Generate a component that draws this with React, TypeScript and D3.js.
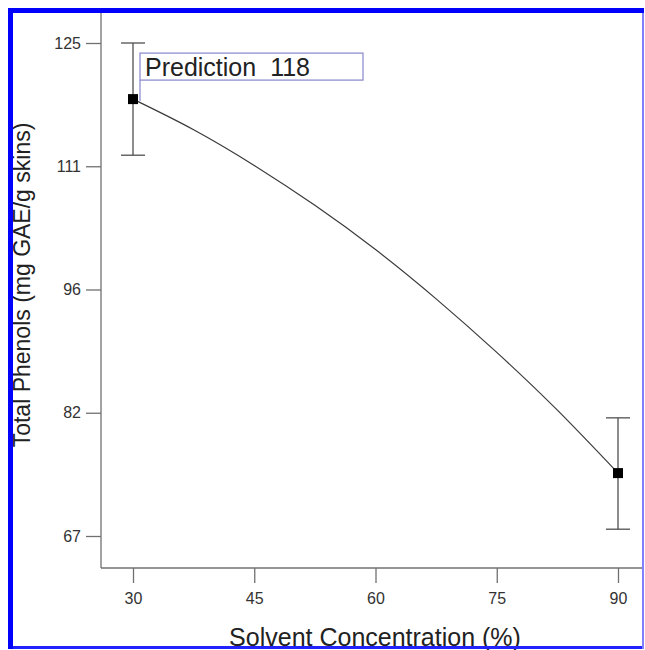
import React, { useEffect, useRef } from "react";
import * as d3 from "d3";

// model curve
const concentration = [30, 37.5, 45, 52.5, 60, 67.5, 75, 82.5, 90];
const phenols = [118.7, 115.1, 110.9, 106.2, 101.0, 95.2, 88.9, 82.1, 74.7];

// design points with their intervals
const pointX = [30, 90];
const pointY = [118.7, 74.7];
const pointLow = [112.1, 68.1];
const pointHigh = [125.3, 81.2];

const xTicks = [30, 45, 60, 75, 90];
const yTicks = [67.3, 81.8, 96.3, 110.8, 125.3];

const predictionLabel = "Prediction";

const FONT = "'Liberation Sans', Arial, Helvetica, sans-serif";

export default function App() {
  const ref = useRef<SVGSVGElement | null>(null);

  useEffect(() => {
    const svg = d3.select(ref.current);
    svg.selectAll("*").remove();

    const left = 101, right = 643, top = 13, bottom = 568;

    const x = d3.scaleLinear().domain([30, 90]).range([133, 618]);
    const y = d3.scaleLinear().domain([67.3, 125.3]).range([536, 43]);

    svg.append("rect").attr("width", 645).attr("height", 650).attr("fill", "#fff");

    // axes
    const xAxis = svg.append("g")
      .attr("transform", `translate(0,${bottom})`)
      .call(d3.axisBottom(x).tickValues(xTicks).tickSize(15).tickPadding(10).tickFormat(d3.format("d")));
    const yAxis = svg.append("g")
      .attr("transform", `translate(${left},0)`)
      .call(d3.axisLeft(y).tickValues(yTicks).tickSize(15).tickPadding(5).tickFormat(d3.format(".0f")));

    [xAxis, yAxis].forEach(g => {
      g.select(".domain").remove();
      g.selectAll("line").attr("stroke", "#707070").attr("stroke-width", 1.3);
      g.selectAll("text")
        .attr("fill", "#333")
        .attr("font-family", FONT)
        .attr("font-size", 16);
    });

    svg.append("line")
      .attr("x1", left).attr("x2", left).attr("y1", top).attr("y2", bottom)
      .attr("stroke", "#707070").attr("stroke-width", 1.3);
    svg.append("line")
      .attr("x1", left).attr("x2", right).attr("y1", bottom).attr("y2", bottom)
      .attr("stroke", "#707070").attr("stroke-width", 1.3);

    // curve
    const line = d3.line<number>()
      .x((d, i) => x(concentration[i]))
      .y(d => y(d))
      .curve(d3.curveNatural);
    svg.append("path")
      .datum(phenols)
      .attr("d", line)
      .attr("fill", "none")
      .attr("stroke", "#3a3a3a")
      .attr("stroke-width", 1.2);

    // error bars
    const bars = svg.append("g").attr("stroke", "#505050").attr("stroke-width", 1.3);
    pointX.forEach((px, i) => {
      bars.append("line")
        .attr("x1", x(px)).attr("x2", x(px))
        .attr("y1", y(pointHigh[i])).attr("y2", y(pointLow[i]));
      [pointHigh[i], pointLow[i]].forEach(v => {
        bars.append("line")
          .attr("x1", x(px) - 12).attr("x2", x(px) + 12)
          .attr("y1", y(v)).attr("y2", y(v));
      });
    });

    svg.append("g")
      .selectAll("rect")
      .data(pointY)
      .join("rect")
      .attr("x", (d, i) => x(pointX[i]) - 5)
      .attr("y", d => y(d) - 5)
      .attr("width", 10)
      .attr("height", 10)
      .attr("fill", "#000");

    // prediction flag
    const bx = x(pointX[0]) + 7;
    const by = y(pointY[0]) - 46;
    svg.append("line")
      .attr("x1", bx).attr("x2", bx)
      .attr("y1", by + 27).attr("y2", y(pointY[0]) + 2)
      .attr("stroke", "#8f8fd0").attr("stroke-width", 1.3);
    svg.append("rect")
      .attr("x", bx).attr("y", by)
      .attr("width", 223).attr("height", 27)
      .attr("fill", "#fff")
      .attr("stroke", "#8f8fd0").attr("stroke-width", 1.3);
    const t = svg.append("text")
      .attr("x", bx + 5).attr("y", by + 23)
      .attr("font-family", FONT).attr("font-size", 25)
      .attr("fill", "#222");
    t.append("tspan").text(predictionLabel);
    t.append("tspan").attr("dx", 14).text(Math.floor(pointY[0]));

    // titles
    svg.append("text")
      .attr("x", 375).attr("y", 646)
      .attr("text-anchor", "middle")
      .attr("font-family", FONT).attr("font-size", 25)
      .attr("fill", "#222")
      .text("Solvent Concentration (%)");
    svg.append("text")
      .attr("transform", "translate(30,285) rotate(-90)")
      .attr("text-anchor", "middle")
      .attr("font-family", FONT).attr("font-size", 23)
      .attr("fill", "#222")
      .text("Total Phenols (mg GAE/g skins)");

    // blue frame
    svg.append("rect").attr("x", 8).attr("y", 646).attr("width", 636).attr("height", 3).attr("fill", "#2222ff");
    svg.append("rect").attr("x", 642).attr("y", 8).attr("width", 2).attr("height", 641).attr("fill", "#7f7fff");
    svg.append("rect").attr("x", 8).attr("y", 8).attr("width", 636).attr("height", 5).attr("fill", "#0000ff");
    svg.append("rect").attr("x", 8).attr("y", 8).attr("width", 5).attr("height", 641).attr("fill", "#0000ff");
  }, []);

  return (
    <svg
      ref={ref}
      width={645}
      height={650}
      style={{ position: "absolute", left: 0, top: 0, display: "block" }}
    />
  );
}
